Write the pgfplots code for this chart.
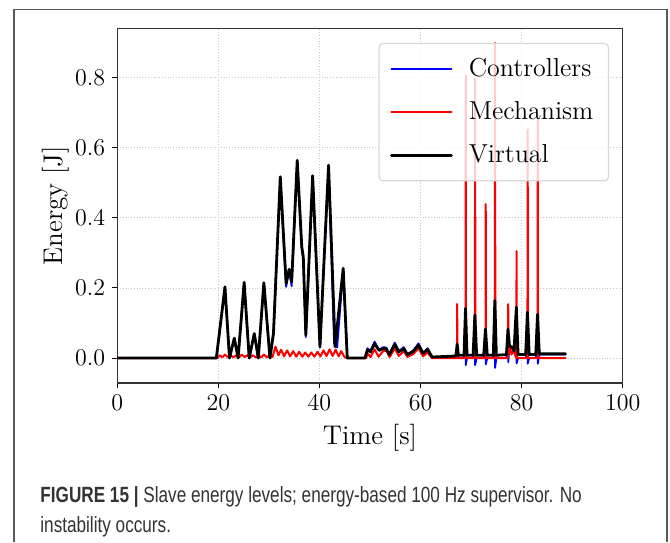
\documentclass[border=0pt]{standalone}
\usepackage{pgfplots}
\pgfplotsset{compat=1.18}
\usepackage{fontspec}
\newfontfamily\capfont{Liberation Sans}

\pgfplotstableread{
t e
0 0
19.6 0
21.3 0.203
22.2 0.0
23.15 0.057
23.9 0.0
25.1 0.216
26.1 0.0
27.1 0.07
27.9 0.0
29.0 0.215
30.2 0.0
30.9 0.07
32.25 0.517
33.4 0.213
34.0 0.253
34.5 0.217
35.6 0.564
36.5 0.317
36.8 0.289
37.3 0.066
38.65 0.52
40.1 0.032
41.8 0.55
43.1 0.032
44.7 0.256
45.5 0.0
49.0 0.0
49.5 0.024
50.1 0.018
50.9 0.041
51.8 0.022
52.6 0.027
53.2 0.027
53.8 0.01
54.9 0.039
55.7 0.018
56.7 0.027
57.4 0.01
58.6 0.02
59.6 0.037
60.5 0.014
61.4 0.025
62.3 0.003
67.0 0.006
67.25 0.04
67.5 0.008
68.6 0.008
68.9 0.142
69.2 0.008
70.4 0.008
70.75 0.123
71.1 0.008
72.5 0.008
72.85 0.083
73.2 0.008
74.4 0.008
74.7 0.164
75.0 0.008
77.0 0.01
77.3 0.083
77.6 0.035
78.2 0.03
78.5 0.02
78.95 0.145
79.3 0.01
80.8 0.01
81.15 0.131
81.5 0.01
82.8 0.01
83.15 0.125
83.5 0.012
88.7 0.012
}\virtualtab

\pgfplotstableread{
t e
0 0
19.6 0
21.3 0.2
22.2 0.0
23.15 0.055
23.9 0.0
25.1 0.214
26.1 0.0
27.1 0.068
27.9 0.0
29.0 0.213
30.2 0.0
30.9 0.075
32.25 0.512
33.4 0.203
34.0 0.25
34.5 0.205
35.6 0.56
36.5 0.31
36.8 0.28
37.3 0.06
38.65 0.515
40.1 0.03
41.8 0.545
42.9 0.04
43.2 0.075
43.5 0.03
44.7 0.25
45.5 0.0
49.0 0.0
49.5 0.028
50.1 0.02
50.9 0.047
51.8 0.024
52.6 0.031
53.2 0.03
53.8 0.01
54.9 0.044
55.7 0.02
56.7 0.031
57.4 0.01
58.6 0.022
59.6 0.042
60.5 0.014
61.4 0.028
62.3 0.0
67.0 0.0
67.25 0.038
67.5 0.0
68.6 0.0
68.9 0.14
68.95 -0.02
69.2 0.0
70.4 0.0
70.75 0.12
70.8 -0.02
71.1 0.0
72.5 0.0
72.85 0.08
72.9 -0.018
73.2 0.0
74.4 0.0
74.7 0.16
74.75 -0.028
75.0 0.0
77.0 0.0
77.3 0.08
77.35 -0.012
77.6 0.03
78.2 0.028
78.5 0.015
78.95 0.14
79.0 -0.015
79.3 0.0
80.8 0.0
81.15 0.128
81.2 -0.016
81.5 0.0
82.8 0.0
83.15 0.122
83.2 -0.016
83.5 0.01
88.7 0.01
}\controltab

\pgfplotstableread{
t e
0 0
19.8 0
20.3 0.008
20.8 0.002
21.3 0.01
21.9 0.002
22.4 0.008
23.0 0.002
23.5 0.008
24.1 0.002
24.6 0.01
25.2 0.003
25.7 0.008
26.3 0.002
26.8 0.008
27.4 0.002
27.9 0.008
28.5 0.002
29.0 0.01
29.6 0.002
30.1 0.008
30.7 0.003
31.3 0.033
31.9 0.008
32.4 0.024
33.0 0.005
33.6 0.022
34.2 0.005
34.8 0.02
35.4 0.004
36.0 0.018
36.6 0.004
37.2 0.016
37.8 0.004
38.4 0.016
39.0 0.004
39.6 0.018
40.2 0.005
40.8 0.022
41.4 0.006
42.0 0.025
42.6 0.006
43.2 0.024
43.8 0.005
44.3 0.02
44.9 0.004
45.4 0
49.2 0
49.6 0.012
50.1 0.003
50.9 0.025
51.7 0.004
52.6 0.02
53.3 0.02
53.9 0.003
54.9 0.028
55.7 0.006
56.7 0.02
57.4 0.003
58.6 0.012
59.6 0.028
60.5 0.005
61.4 0.016
62.2 0
67.2 0
67.25 0.154
67.3 0
68.9 0
68.95 0.805
69.0 0
70.75 0
70.8 0.796
70.85 0
72.85 0
72.9 0.439
72.95 0
74.7 0
74.75 0.898
74.8 0
77.3 0
77.35 0.154
77.4 0.01
77.7 0.03
78.0 0.01
78.4 0.025
78.8 0.005
78.95 0
79.0 0.305
79.05 0
81.15 0
81.2 0.652
81.25 0
83.15 0
83.2 0.686
83.25 0
88.7 0
}\mechtab

\begin{document}
\begin{tikzpicture}
\path[fill=white] (0,0) rectangle (335pt,-271pt);
\draw[black!65, line width=0.8pt] (7pt,-271pt) -- (7pt,-4.65pt) -- (333.5pt,-4.65pt) -- (333.5pt,-271pt);
\begin{axis}[
  at={(58.65pt,-14.15pt)}, anchor=north west,
  scale only axis, width=252.7pt, height=177.35pt,
  xmin=0, xmax=100, ymin=-0.071, ymax=0.94,
  xtick={0,20,40,60,80,100},
  ytick={0,0.2,0.4,0.6,0.8},
  yticklabel style={/pgf/number format/fixed, /pgf/number format/fixed zerofill, /pgf/number format/precision=1},
  tick label style={font=\fontsize{13}{15}\selectfont},
  label style={font=\fontsize{13.5}{16}\selectfont},
  xlabel={Time [s]}, ylabel={Energy [J]},
  ylabel style={yshift=-4pt},
  xtick pos=left, ytick pos=left, tick align=outside,
  major tick length=2.5pt,
  tick style={black, line width=0.5pt},
  axis line style={black!80, line width=0.7pt},
  grid=major,
  major grid style={densely dotted, gray!45, line width=0.4pt},
  legend cell align=left,
  legend style={at={(0.973,0.959)}, anchor=north east, draw=gray!30, line width=0.6pt,
    rounded corners=2pt, fill=white, fill opacity=0.8, text opacity=1,
    font=\fontsize{13}{15}\selectfont, row sep=7pt, inner xsep=5.5pt, inner ysep=5.5pt,
    /tikz/every even column/.append style={column sep=0pt}},
  legend image code/.code={\draw[#1] (0pt,0pt) -- (30pt,0pt);},
  every axis plot/.append style={line join=round, line cap=round},
]
\addplot[blue, line width=0.9pt] table[x=t,y=e] {\controltab};
\addlegendentry{\hspace{6pt}Controllers}
\addplot[red, line width=1pt] table[x=t,y=e] {\mechtab};
\addlegendentry{\hspace{6pt}Mechanism}
\addplot[black, line width=1.4pt] table[x=t,y=e] {\virtualtab};
\addlegendentry{\hspace{6pt}Virtual}
\end{axis}
\node[anchor=base west, inner sep=0pt, text=black!80] at (20pt,-251pt)
  {\capfont\fontsize{11}{13}\selectfont\scalebox{0.78}[1]{\textbf{FIGURE 15 |} Slave energy levels; energy-based 100 Hz supervisor. No}};
\node[anchor=base west, inner sep=0pt, text=black!80] at (20pt,-266pt)
  {\capfont\fontsize{11}{13}\selectfont\scalebox{0.78}[1]{instability occurs.}};
\end{tikzpicture}
\end{document}
